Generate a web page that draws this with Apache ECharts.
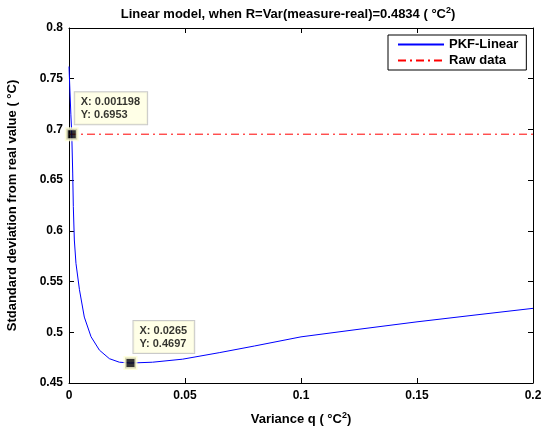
<!DOCTYPE html>
<html><head><meta charset="utf-8">
<script src="https://cdn.jsdelivr.net/npm/echarts@6/dist/echarts.min.js"></script>
<style>html,body{margin:0;padding:0;background:#fff}#c{width:550px;height:433px}</style>
</head><body><div id="c"></div>
<script>
const qValues = [0, 0.0004, 0.0008, 0.001198, 0.0016, 0.00186, 0.0023, 0.003, 0.0045, 0.0066, 0.0095, 0.0131, 0.0174, 0.0217, 0.0265, 0.036, 0.049, 0.065, 0.08, 0.1, 0.125, 0.15, 0.175, 0.2];
const pkfLinear = [0.762, 0.738, 0.715, 0.6953, 0.657, 0.624, 0.591, 0.568, 0.542, 0.515, 0.4956, 0.4824, 0.474, 0.4705, 0.4697, 0.4705, 0.4735, 0.480, 0.4865, 0.4955, 0.503, 0.5103, 0.517, 0.5236];
const rawX = [0, 0.2];
const rawY = [0.6953, 0.6953];
const tipX = [0.001198, 0.0265];
const tipY = [0.6953, 0.4697];
const xTicks = [0, 0.05, 0.1, 0.15, 0.2];
const yTicks = [0.45, 0.5, 0.55, 0.6, 0.65, 0.7, 0.75, 0.8];

const FONT = 'Liberation Sans';
const chart = echarts.init(document.getElementById('c'));
const axisCommon = {
  type: 'value',
  axisLine: {show: true, onZero: false, lineStyle: {color: '#000', width: 1}},
  axisTick: {show: true, inside: true, length: 5, lineStyle: {color: '#000'}},
  splitLine: {show: false},
};
const supRich = {s: {fontFamily: FONT, fontWeight: 'bold', fontSize: 9, verticalAlign: 'top', padding: [0, 0, 8, 0]}};
chart.setOption({
  animation: false,
  backgroundColor: '#fff',
  textStyle: {fontFamily: FONT},
  grid: {left: 69, top: 28, right: 17, bottom: 50, containLabel: false, outerBoundsMode: 'none'},
  legend: {
    orient: 'vertical', left: 388, top: 35,
    backgroundColor: '#fff', borderColor: '#000', borderWidth: 1,
    padding: [3, 8, 3, 9], itemGap: 3, itemWidth: 46, itemHeight: 15,
    itemStyle: {opacity: 0},
    textStyle: {fontFamily: FONT, fontWeight: 'bold', fontSize: 13, color: '#000'},
    data: ['PKF-Linear', 'Raw data']
  },
  xAxis: [
    Object.assign({}, axisCommon, {
      position: 'bottom', min: 0, max: 0.2, interval: 0.05,
      axisLabel: {color: '#000', fontFamily: FONT, fontWeight: 'bold', fontSize: 12, margin: 7,
        formatter: v => String(xTicks.find(t => Math.abs(t - v) < 1e-9) ?? v)},
      name: 'Variance q ( °C{s|2})', nameLocation: 'middle', nameGap: 28,
      nameTextStyle: {color: '#000', fontFamily: FONT, fontWeight: 'bold', fontSize: 13, rich: supRich}
    }),
    Object.assign({}, axisCommon, {
      position: 'top', min: 0, max: 0.2, interval: 0.05,
      axisLabel: {show: false},
      name: 'Linear model, when R=Var(measure-real)=0.4834 ( °C{s|2})', nameLocation: 'middle', nameGap: 5,
      nameTextStyle: {color: '#000', fontFamily: FONT, fontWeight: 'bold', fontSize: 13, rich: supRich, padding: [0, 26, 0, 0]}
    })
  ],
  yAxis: [
    Object.assign({}, axisCommon, {
      position: 'left', min: 0.45, max: 0.8, interval: 0.05,
      axisLabel: {color: '#000', fontFamily: FONT, fontWeight: 'bold', fontSize: 12, margin: 6,
        formatter: v => String(yTicks.find(t => Math.abs(t - v) < 1e-9) ?? v)},
      name: 'Stdandard deviation from real value ( °C)', nameLocation: 'middle', nameGap: 50,
      nameTextStyle: {color: '#000', fontFamily: FONT, fontWeight: 'bold', fontSize: 13}
    }),
    Object.assign({}, axisCommon, {
      position: 'right', min: 0.45, max: 0.8, interval: 0.05,
      axisLabel: {show: false}
    })
  ],
  series: [
    {
      name: 'PKF-Linear', type: 'line', showSymbol: false, symbol: 'none',
      data: qValues.map((q, i) => [q, pkfLinear[i]]),
      lineStyle: {color: '#0000ff', width: 1}, itemStyle: {color: '#0000ff'}, z: 3
    },
    {
      name: 'Raw data', type: 'line', showSymbol: false, symbol: 'none',
      data: rawX.map((q, i) => [q, rawY[i]]),
      lineStyle: {color: '#ff0000', width: 1, type: [8, 4, 2, 4]}, itemStyle: {color: '#ff0000'}, z: 2
    },
    {
      name: 'tips', type: 'scatter', symbol: 'rect', symbolSize: 11,
      data: tipX.map((q, i) => [q, tipY[i]]),
      itemStyle: {color: '#000', borderColor: '#ffffd6', borderWidth: 3},
      z: 5,
      label: {
        show: true, position: [10, -3], align: 'left', verticalAlign: 'bottom',
        formatter: p => 'X: ' + tipX[p.dataIndex] + '\nY: ' + tipY[p.dataIndex],
        color: '#000', fontFamily: FONT, fontWeight: 'bold', fontSize: 11, lineHeight: 13,
        backgroundColor: '#ffffe1', borderColor: '#bdbdbd', borderWidth: 1, padding: [3, 7, 3, 6]
      }
    }
  ]
});
</script></body></html>
